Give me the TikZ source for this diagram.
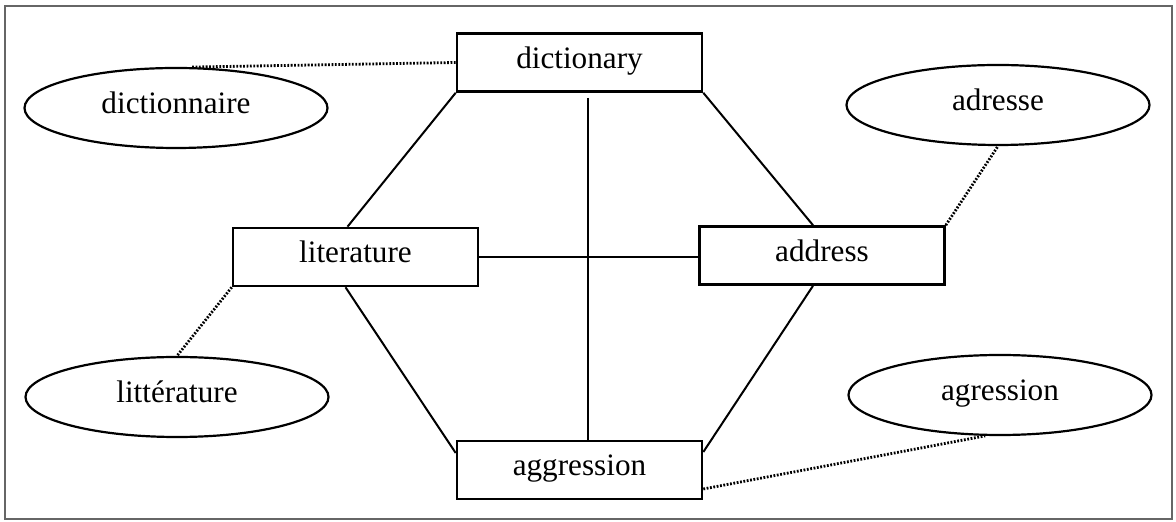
\documentclass[tikz,border=0pt]{standalone}
\usepackage{fontspec}
\setmainfont{Liberation Serif}
\usetikzlibrary{shapes.geometric,calc}

\tikzset{
  wordbox/.style={draw, rectangle, line width=1.3pt, minimum width=122.5pt, minimum height=29pt, inner sep=0pt, text height=10pt, text depth=4pt, font=\fontsize{15.6}{18}\selectfont},
  wordoval/.style={draw, ellipse, line width=1.1pt, minimum width=151.5pt, minimum height=40pt, inner sep=0pt, text height=10pt, text depth=4pt, font=\fontsize{15.6}{18}\selectfont},
  link/.style={line width=1pt},
  translink/.style={line width=1.4pt, dash pattern=on 0.9pt off 0.8pt}
}

\begin{document}
\begin{tikzpicture}[x=0.5pt,y=0.5pt,yscale=-1,xscale=1]

            \useasboundingbox (0,0) rectangle (1176,522);
            % Frame
            \draw [gray!80!black, line width=0.9pt] (5,6) rectangle (1172,519);

            % English words
            \node [wordbox] (dict) at (579.5,62.5) {dictionary};
            \node [wordbox] (lit)  at (355.5,257)  {literature};
            \node [wordbox] (addr) at (822,255.5)  {address};
            \node [wordbox] (aggr) at (579.5,470)  {aggression};

            % French words
            \node [wordoval] (frdict) at (176,108)  {dictionnaire};
            \node [wordoval] (fraddr) at (998,105)  {adresse};
            \node [wordoval] (frlit)  at (177,397)  {littérature};
            \node [wordoval] (fraggr) at (1000,395) {agression};

            % Lines
            \draw [link] (dict.south west) -- ($(lit.north)+(-8,0)$);
            \draw [link] (dict.south east) -- ($(addr.north)+(-9,0)$);
            \draw [link] ($(dict.south)+(8.5,5)$) -- ($(aggr.north)+(8.5,0)$);
            \draw [link] (lit.east) -- (lit.east -| addr.west);
            \draw [link] ($(lit.south)+(-10,0)$) -- ($(aggr.west)+(0,-17)$);
            \draw [link] ($(addr.south)+(-9,0)$) -- ($(aggr.east)+(0,-18)$);

            % Translations
            \draw [translink] (dict.west) -- (frdict.70);
            \draw [translink] (addr.north east) -- (fraddr.south);
            \draw [translink] (lit.south west) -- (frlit.north);
            \draw [translink] ($(aggr.east)+(0,19)$) -- (fraggr.250);

\end{tikzpicture}
\end{document}
